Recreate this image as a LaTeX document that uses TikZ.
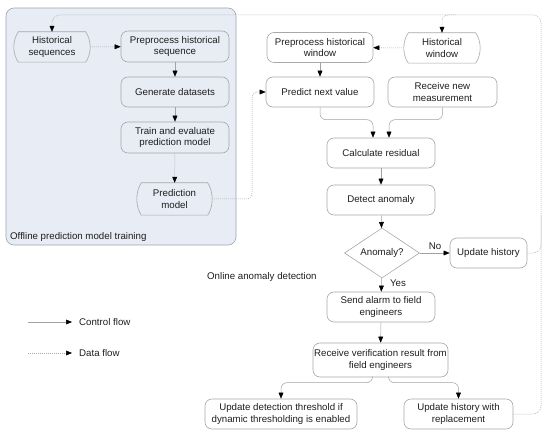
\documentclass[tikz,border=0pt]{standalone}
\usepackage{fontspec}
\setmainfont{Liberation Sans}
\usetikzlibrary{arrows.meta,calc,shapes.geometric}
\definecolor{linegray}{HTML}{A2A2A2}
\definecolor{datagray}{HTML}{AAAAAA}
\definecolor{bordergray}{HTML}{A8A8A8}
\definecolor{offfill}{HTML}{E7ECF5}
\definecolor{offborder}{HTML}{9EA5B1}
\definecolor{txt}{HTML}{1E1E1E}
\newcommand{\drawtape}[1]{%
  \draw[tapeline] ($(#1.north west)+(4.5,0)$) -- ($(#1.north east)+(-4.5,0)$)
    .. controls ($(#1.north east)+(1.5,9)$) and ($(#1.south east)+(1.5,-9)$) .. ($(#1.south east)+(-4.5,0)$)
    -- ($(#1.south west)+(4.5,0)$)
    .. controls ($(#1.south west)+(-1.5,-9)$) and ($(#1.north west)+(-1.5,9)$) .. cycle;}
\tikzset{
  every node/.style={font=\fontsize{9.7}{11.7}\selectfont, text=txt},
  proc/.style={draw=bordergray, line width=0.6pt, rounded corners=7pt, minimum height=30pt, align=center, inner sep=1pt},
  tapenode/.style={minimum height=30pt, align=center, inner sep=1pt},
  tapeline/.style={draw=bordergray, line width=0.6pt},
  tip/.style={-{Triangle[length=6pt,width=4.8pt,black]}},
  ctrl/.style={draw=linegray, line width=0.5pt, tip},
  data/.style={draw=datagray, line width=0.5pt, dash pattern=on 1pt off 1pt, tip},
  dataline/.style={draw=datagray, line width=0.5pt, dash pattern=on 1pt off 1pt},
  offbox/.style={draw=offborder, fill=offfill, line width=0.6pt, rounded corners=8pt},
  lbl/.style={inner sep=0pt}
}
\begin{document}
\begin{tikzpicture}[x=1pt,y=-1pt]
\useasboundingbox (0,0) rectangle (550,436);
% offline training box
\node[offbox, minimum width=230pt, minimum height=237pt] (offline) at (121,126.5) {};
\node[lbl, anchor=west] (offlbl) at (10,237) {Offline prediction model training};
% offline nodes
\node[tapenode, minimum width=76pt] (hs) at (52,47) {Historical\\sequences};
\drawtape{hs}
\node[proc, minimum width=108pt, minimum height=31pt] (phs) at (175,46.5) {Preprocess historical\\sequence};
\node[proc, minimum width=108pt] (gd) at (175,92) {Generate datasets};
\node[proc, minimum width=108pt, minimum height=31pt] (te) at (175,137.5) {Train and evaluate\\prediction model};
\node[tapenode, minimum width=75pt, minimum height=32pt] (pm) at (174.5,199) {Prediction\\model};
\drawtape{pm}
% online nodes
\node[proc, minimum width=106pt] (phw) at (320,47.5) {Preprocess historical\\window};
\node[tapenode, minimum width=76pt] (hw) at (442,48) {Historical\\window};
\drawtape{hw}
\node[proc, minimum width=108pt] (pnv) at (320,92) {Predict next value};
\node[proc, minimum width=109pt] (rnm) at (442.5,92) {Receive new\\measurement};
\node[proc, minimum width=108pt] (cr) at (381,153) {Calculate residual};
\node[proc, minimum width=108pt] (da) at (381,200) {Detect anomaly};
\node[diamond, draw=bordergray, line width=0.6pt, aspect=1.5, inner sep=0pt, minimum width=75pt, minimum height=50pt] (an) at (382,253) {Anomaly?};
\node[proc, minimum width=77pt] (uh) at (488.5,253) {Update history};
\node[proc, minimum width=108pt] (sa) at (381,307) {Send alarm to field\\engineers};
\node[proc, minimum width=135pt, minimum height=34pt] (rv) at (380.5,360) {Receive verification result from\\field engineers};
\node[proc, minimum width=152pt] (udt) at (281,414) {Update detection threshold if\\dynamic thresholding is enabled};
\node[proc, minimum width=109pt] (uhr) at (458.5,414) {Update history with\\replacement};
\node[lbl, anchor=west] (onlbl) at (207,277) {Online anomaly detection};
\node[lbl] (nolbl) at (435,246) {No};
\node[lbl] (yeslbl) at (398,283.5) {Yes};
% offline connectors
\draw[data] (hs) -- (phs);
\draw[ctrl] (phs) -- (gd);
\draw[ctrl] (gd) -- (te);
\draw[data] (te) -- (pm);
\coordinate (pmturn) at (252,199);
\draw[data, rounded corners=6pt] (pm.east) -- (pmturn) |- (pnv.west);
% online connectors
\draw[data] (hw) -- (phw);
\draw[ctrl] (phw) -- (pnv);
\draw[ctrl, rounded corners=6pt] (pnv.south) |- ($(cr.north)+(-8,-18)$) -- ($(cr.north)+(-8,0)$);
\draw[ctrl, rounded corners=6pt] (rnm.south) |- ($(cr.north)+(8,-18)$) -- ($(cr.north)+(8,0)$);
\draw[ctrl] (cr) -- (da);
\draw[ctrl] (da) -- (an);
\draw[ctrl] (an) -- (uh);
\draw[ctrl] (an) -- (sa);
\draw[ctrl] (sa) -- (rv);
\draw[ctrl, rounded corners=6pt] ($(rv.south)+(-8,0)$) |- ($(udt.north)+(0,-16)$) -- (udt.north);
\draw[ctrl, rounded corners=6pt] ($(rv.south)+(8,0)$) |- ($(uhr.north)+(0,-16)$) -- (uhr.north);
% feedback data flow
\coordinate (fbtr) at (541,15);
\draw[data, rounded corners=8pt] (uhr.east) -| (fbtr) -| (hs.north);
\draw[dataline, rounded corners=8pt] (uh.east) -| ($(fbtr)+(0,200)$);
\draw[data, rounded corners=6pt] ($(hw.north |- fbtr)+(14,0)$) -| (hw.north);
% legend
\coordinate (cfa) at (28,322);
\coordinate (cfb) at (72,322);
\draw[ctrl] (cfa) -- (cfb);
\node[lbl, anchor=west] (cflbl) at (79,322) {Control flow};
\coordinate (dfa) at (28,353);
\coordinate (dfb) at (72,353);
\draw[data] (dfa) -- (dfb);
\node[lbl, anchor=west] (dflbl) at (79,353) {Data flow};
\end{tikzpicture}
\end{document}
